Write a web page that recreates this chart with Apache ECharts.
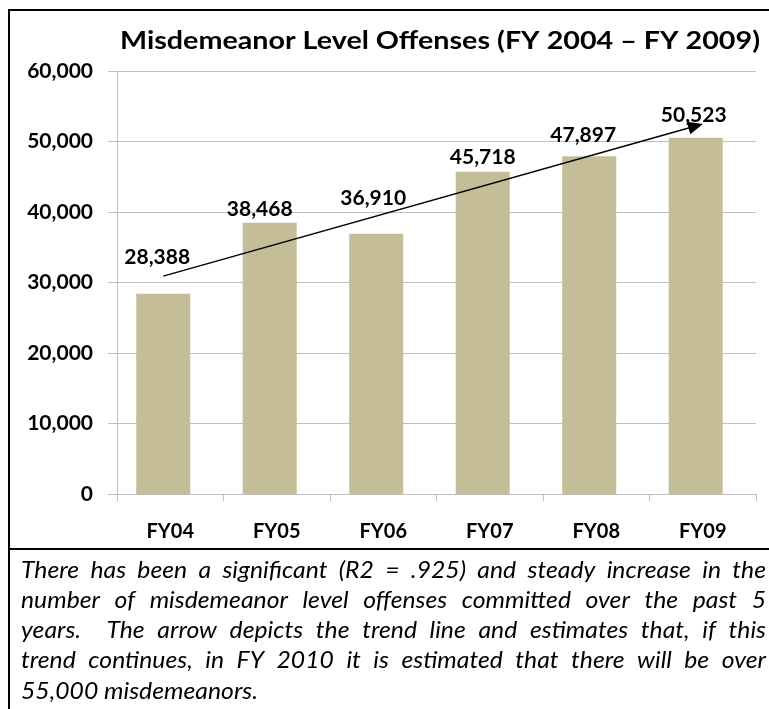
<!DOCTYPE html>
<html><head><meta charset="utf-8">
<script src="https://cdn.jsdelivr.net/npm/echarts@6/dist/echarts.min.js"></script>
<style>html,body{margin:0;padding:0;background:#fff}#c{width:769px;height:709px}</style>
</head><body><div id="c"></div>
<script>
// ---- data ----
const categories = ['FY04', 'FY05', 'FY06', 'FY07', 'FY08', 'FY09'];
const offenses = [28388, 38468, 36910, 45718, 47897, 50523];
const yTickValues = [0, 10000, 20000, 30000, 40000, 50000, 60000];
const trendStart = [0, 30900];   // [category index, value]
const trendEnd = [5, 52200];
const titleText = 'Misdemeanor Level Offenses (FY 2004 \u2013 FY 2009)';
const captionLines = [
  'There has been a significant (R2 = .925) and steady increase in the',
  'number of misdemeanor level offenses committed over the past 5',
  'years.  The arrow depicts the trend line and estimates that, if this',
  'trend continues, in FY 2010 it is estimated that there will be over',
  '55,000 misdemeanors.'
];

// ---- styling (not data) ----
const labelLift = [21, -2, 20, -1, 6, 7];
const labelShift = [-6, -10, -3, 0, -6, -2];
const FONT = 'Lato';
const fmt = v => Number(v).toLocaleString('en-US');

const cv = document.createElement('canvas').getContext('2d');
function measure(text, font) { cv.font = font; return cv.measureText(text).width; }

const titleFont = 'normal bold 25px ' + FONT;
const titleScale = 640 / measure(titleText, titleFont);
const capFont = 'italic normal 24px ' + FONT;
const capScale = 237 / measure(captionLines[4], capFont);

const graphics = [];
// frame
graphics.push({ type: 'polyline', shape: { points: [[9, 709], [9, 10], [769, 10]] }, style: { stroke: '#000', lineWidth: 2, fill: null }, silent: true });
graphics.push({ type: 'line', shape: { x1: 9, y1: 549, x2: 769, y2: 549 }, style: { stroke: '#000', lineWidth: 2 }, silent: true });
// title
graphics.push({ type: 'text', x: 440, y: 41, scaleX: titleScale, style: { text: titleText, font: titleFont, fill: '#000', align: 'center', verticalAlign: 'middle' }, silent: true });
// caption (justified)
const capLeft = 21, capRight = 766, capTop = 570, capStep = 30.2;
captionLines.forEach((line, i) => {
  const y = capTop + i * capStep;
  const words = line.split(' ');
  const widths = words.map(w => measure(w, capFont) * capScale);
  const sum = widths.reduce((a, b) => a + b, 0);
  const last = i === captionLines.length - 1;
  const gap = last ? measure(' ', capFont) * capScale : (capRight - capLeft - sum) / (words.length - 1);
  let x = capLeft;
  words.forEach((w, k) => {
    if (w) graphics.push({ type: 'text', x: x, y: y, scaleX: capScale, style: { text: w, font: capFont, fill: '#000', align: 'left', verticalAlign: 'middle' }, silent: true });
    x += widths[k] + gap;
  });
});

const chart = echarts.init(document.getElementById('c'), null, { renderer: 'canvas' });
const gridColor = '#bfbfbf';
chart.setOption({
  animation: false,
  backgroundColor: '#fff',
  grid: { left: 117, right: 13, top: 71, bottom: 215, containLabel: false },
  xAxis: {
    type: 'category', data: categories,
    axisLine: { lineStyle: { color: gridColor, width: 1 } },
    axisTick: { show: true, length: 7, lineStyle: { color: gridColor } },
    axisLabel: { color: '#000', fontFamily: FONT, fontWeight: 'bold', fontSize: 20, margin: 28 }
  },
  yAxis: {
    type: 'value', min: yTickValues[0], max: yTickValues[yTickValues.length - 1],
    interval: yTickValues[1] - yTickValues[0],
    axisLine: { show: true, lineStyle: { color: gridColor } },
    axisTick: { show: true, length: 9, lineStyle: { color: gridColor } },
    splitLine: { show: true, lineStyle: { color: gridColor } },
    axisLabel: { color: '#000', fontFamily: FONT, fontWeight: 'bold', fontSize: 21, margin: 24, formatter: fmt }
  },
  series: [
    {
      type: 'bar', name: 'Offenses', barWidth: 54, barGap: '-74%',
      data: offenses.map((v, i) => ({
        value: v,
        label: { offset: [labelShift[i], -labelLift[i]] }
      })),
      itemStyle: { color: '#c4bd97' },
      label: { show: true, position: 'top', distance: 5, color: '#000', fontFamily: FONT, fontWeight: 'bold', fontSize: 21, formatter: p => fmt(p.value) },
      markLine: {
        silent: true, animation: false,
        symbol: ['none', 'triangle'], symbolSize: [13, 15],
        lineStyle: { color: '#000', width: 1.4, type: 'solid' },
        label: { show: false },
        data: [[{ coord: trendStart }, { coord: trendEnd }]]
      }
    },
    { type: 'bar', name: 'ghost', barWidth: 54, data: categories.map(() => '-'), silent: true }
  ],
  graphic: graphics
});
</script></body></html>
